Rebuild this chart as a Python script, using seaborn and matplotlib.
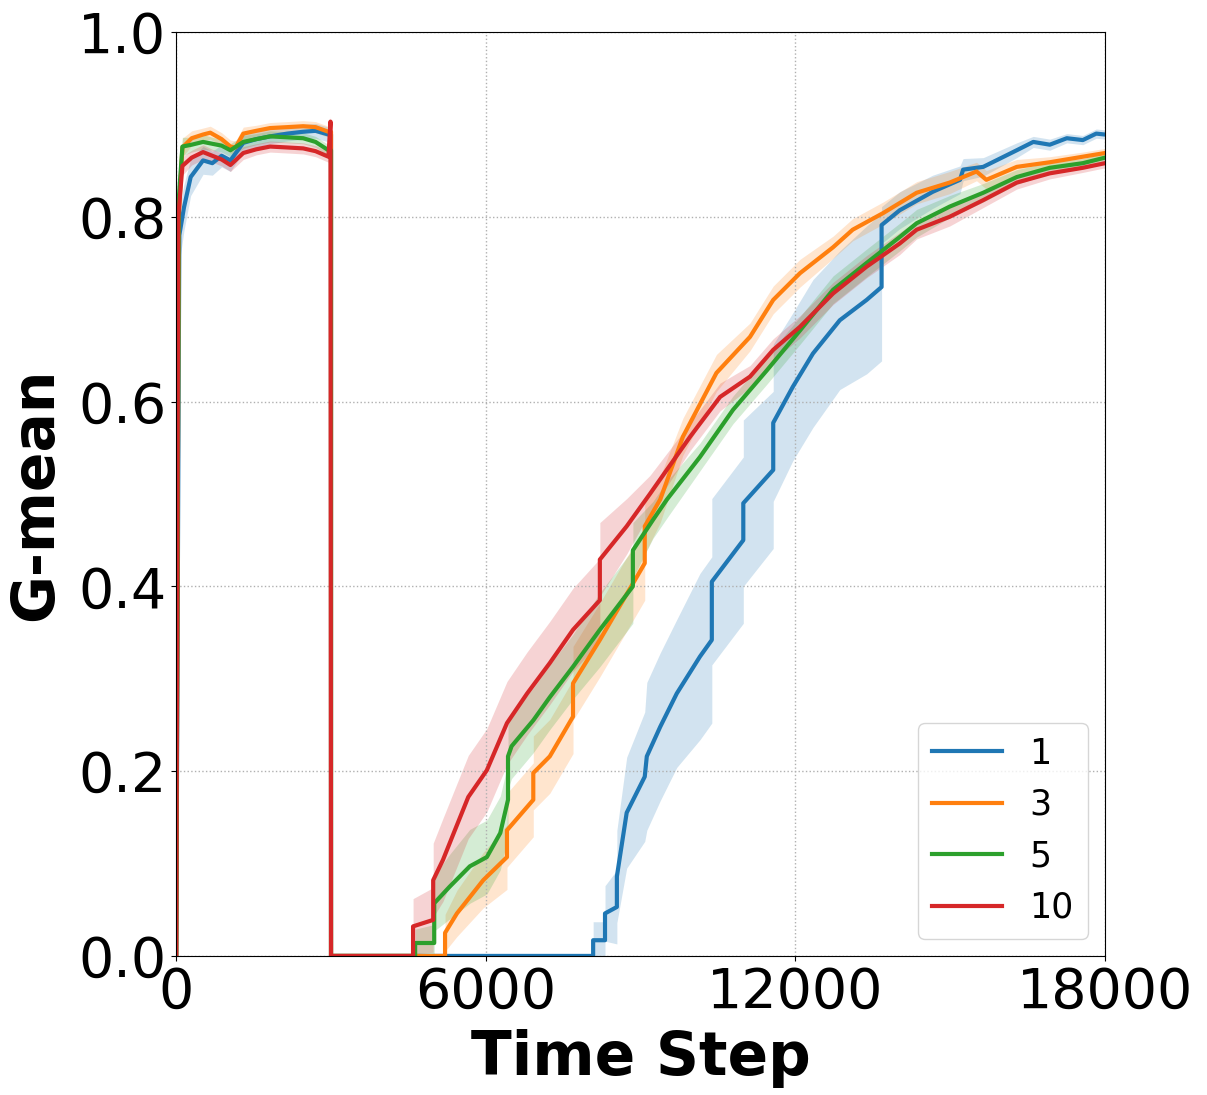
import matplotlib
matplotlib.use("Agg")
import matplotlib.pyplot as plt
import seaborn as sns
import pandas as pd
import numpy as np

# window size 1
t_1 = [0, 60, 150, 280, 520, 700, 880, 1050, 1300, 1550, 1820, 2150, 2460, 2700, 2950, 3000, 3000,
       8080, 8080, 8310, 8310, 8540, 8540, 8730, 9080, 9120, 9380, 9700, 10150,
       10380, 10380, 10990, 10990, 11570, 11570, 11950, 12340, 12860, 13380,
       13670, 13670, 14020, 14660, 15190, 15250, 15640, 16290, 16610, 16930,
       17260, 17570, 17830, 18000]
g_1 = [0.0, 0.78, 0.81, 0.843, 0.861, 0.858, 0.866, 0.861, 0.88, 0.884, 0.887, 0.890, 0.892, 0.893, 0.889, 0.889, 0.0,
       0.0, 0.017, 0.017, 0.046, 0.053, 0.086, 0.155, 0.194, 0.216, 0.248, 0.284, 0.324,
       0.342, 0.405, 0.450, 0.490, 0.526, 0.577, 0.616, 0.652, 0.688, 0.710,
       0.724, 0.791, 0.807, 0.827, 0.840, 0.851, 0.854, 0.872, 0.881, 0.878,
       0.885, 0.883, 0.890, 0.889]
sd_1 = [0.0, 0.03, 0.025, 0.02, 0.015, 0.013, 0.012, 0.012, 0.01, 0.009, 0.008, 0.008, 0.008, 0.008, 0.008, 0.008, 0.0,
        0.0, 0.02, 0.02, 0.03, 0.04, 0.05, 0.06, 0.07, 0.08, 0.08, 0.08, 0.09,
        0.09, 0.09, 0.09, 0.09, 0.085, 0.085, 0.08, 0.08, 0.075, 0.08,
        0.08, 0.02, 0.02, 0.018, 0.015, 0.012, 0.01, 0.008, 0.006, 0.006,
        0.005, 0.005, 0.005, 0.005]

# window size 3
t_3 = [0, 50, 120, 300, 520, 660, 880, 1050, 1150, 1300, 1550, 1820, 2150, 2460, 2700, 2950, 3000, 3000,
       5210, 5210, 5440, 5950, 6410, 6410, 6920, 6920, 7240, 7690, 7690, 8210,
       8850, 9080, 9080, 9380, 9820, 10470, 11120, 11570, 12090, 12730, 13110,
       13700, 14350, 14990, 15510, 15700, 16290, 16930, 17570, 18000]
g_3 = [0.0, 0.80, 0.875, 0.885, 0.889, 0.891, 0.884, 0.876, 0.875, 0.89, 0.893, 0.896, 0.897, 0.898, 0.897, 0.892, 0.892, 0.0,
       0.0, 0.025, 0.046, 0.082, 0.107, 0.136, 0.169, 0.198, 0.216, 0.259, 0.295, 0.342,
       0.403, 0.425, 0.465, 0.494, 0.562, 0.631, 0.670, 0.710, 0.739, 0.767, 0.786,
       0.804, 0.826, 0.837, 0.849, 0.840, 0.854, 0.859, 0.865, 0.869]
sd_3 = [0.0, 0.02, 0.01, 0.008, 0.007, 0.007, 0.007, 0.007, 0.007, 0.007, 0.006, 0.006, 0.006, 0.006, 0.006, 0.006, 0.006, 0.0,
        0.0, 0.02, 0.025, 0.03, 0.035, 0.04, 0.04, 0.04, 0.04, 0.04, 0.04, 0.04,
        0.04, 0.04, 0.03, 0.025, 0.02, 0.02, 0.015, 0.015, 0.015, 0.012, 0.012,
        0.012, 0.012, 0.012, 0.01, 0.01, 0.008, 0.006, 0.005, 0.005]

# window size 5
t_5 = [0, 50, 120, 300, 520, 700, 880, 1050, 1300, 1550, 1820, 2150, 2460, 2700, 2950, 3000, 3000,
       4630, 4630, 5000, 5000, 5300, 5690, 6020, 6280, 6430, 6430, 6500, 6920,
       7240, 7690, 8210, 8850, 8850, 9240, 9510, 10150, 10790, 11450, 12090,
       12730, 13380, 14020, 14350, 14990, 15640, 16290, 16930, 17570, 18000]
g_5 = [0.0, 0.82, 0.876, 0.878, 0.881, 0.879, 0.877, 0.872, 0.881, 0.884, 0.887, 0.886, 0.885, 0.881, 0.872, 0.872, 0.0,
       0.0, 0.014, 0.014, 0.057, 0.075, 0.097, 0.107, 0.133, 0.169, 0.216, 0.227, 0.255,
       0.280, 0.313, 0.353, 0.400, 0.439, 0.472, 0.494, 0.540, 0.591, 0.634, 0.677,
       0.721, 0.750, 0.778, 0.793, 0.811, 0.826, 0.843, 0.853, 0.858, 0.864]
sd_5 = [0.0, 0.02, 0.01, 0.008, 0.008, 0.007, 0.007, 0.007, 0.007, 0.006, 0.006, 0.006, 0.006, 0.006, 0.006, 0.006, 0.0,
        0.0, 0.015, 0.02, 0.03, 0.035, 0.04, 0.04, 0.04, 0.04, 0.035, 0.035, 0.035,
        0.035, 0.035, 0.04, 0.04, 0.03, 0.02, 0.02, 0.015, 0.015, 0.015, 0.015,
        0.015, 0.015, 0.015, 0.015, 0.012, 0.01, 0.008, 0.006, 0.005, 0.005]

# window size 10
t_10 = [0, 40, 120, 300, 520, 700, 880, 1050, 1300, 1550, 1820, 2150, 2460, 2700, 2950, 2990, 3000,
        4590, 4590, 4980, 4980, 5170, 5400, 5660, 6020, 6410, 6800, 7240, 7690,
        8210, 8210, 8730, 9180, 9960, 10540, 11120, 11570, 12090, 12730, 13380,
        14020, 14350, 14990, 15640, 16290, 16930, 17570, 18000]
g_10 = [0.0, 0.80, 0.855, 0.864, 0.870, 0.866, 0.862, 0.856, 0.869, 0.873, 0.876, 0.875, 0.874, 0.871, 0.865, 0.903, 0.0,
        0.0, 0.032, 0.039, 0.082, 0.104, 0.136, 0.172, 0.201, 0.252, 0.284, 0.317, 0.353,
        0.385, 0.429, 0.465, 0.500, 0.562, 0.605, 0.627, 0.656, 0.681, 0.717, 0.746,
        0.771, 0.786, 0.800, 0.818, 0.837, 0.847, 0.853, 0.858]
sd_10 = [0.0, 0.02, 0.01, 0.008, 0.008, 0.007, 0.007, 0.007, 0.007, 0.006, 0.006, 0.006, 0.006, 0.006, 0.006, 0.006, 0.0,
         0.0, 0.03, 0.035, 0.04, 0.045, 0.045, 0.045, 0.045, 0.045, 0.045, 0.045, 0.045,
         0.045, 0.04, 0.03, 0.02, 0.015, 0.015, 0.012, 0.012, 0.012, 0.012, 0.012,
         0.012, 0.01, 0.01, 0.008, 0.007, 0.006, 0.005, 0.005]

labels = ["1", "3", "5", "10"]
series = [(t_1, g_1, sd_1), (t_3, g_3, sd_3), (t_5, g_5, sd_5), (t_10, g_10, sd_10)]
colors = ["#1f77b4", "#ff7f0e", "#2ca02c", "#d62728"]

frames = []
for lab, (t, g, sd) in zip(labels, series):
    frames.append(pd.DataFrame({"Time Step": t, "G-mean": g, "sd": sd, "k": lab}))
df = pd.concat(frames, ignore_index=True)

fig = plt.figure(figsize=(12.07, 10.95), dpi=100)
ax = fig.add_axes([0.146, 0.127, 0.7695, 0.8438])

for lab, col in zip(labels, colors):
    d = df[df["k"] == lab]
    ax.fill_between(d["Time Step"], np.clip(d["G-mean"] - d["sd"], 0, 1),
                    np.clip(d["G-mean"] + d["sd"], 0, 1), color=col, alpha=0.2, lw=0)

sns.lineplot(data=df, x="Time Step", y="G-mean", hue="k", hue_order=labels,
             palette=colors, estimator=None, sort=False, lw=3, ax=ax)

ax.set_xlim(0, 18000)
ax.set_ylim(0, 1.0)
ax.set_xticks([0, 6000, 12000, 18000])
ax.set_yticks([0.0, 0.2, 0.4, 0.6, 0.8, 1.0])
ax.tick_params(labelsize=40)
ax.grid(True, ls=":", lw=1, color="#b0b0b0")
ax.set_xlabel("Time Step", fontsize=43, fontweight="bold", labelpad=7)
ax.set_ylabel("G-mean", fontsize=42, fontweight="bold", labelpad=10)
ax.legend(loc="lower right", fontsize=25, title=None)

fig.savefig("out.png", dpi=100)
